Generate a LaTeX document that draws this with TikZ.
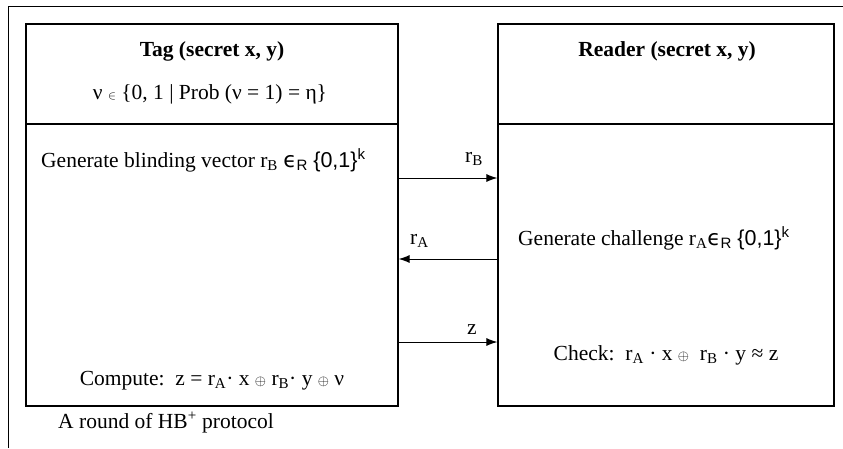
\documentclass[tikz,border=0pt]{standalone}
\usepackage{fontspec}
\setmainfont{Liberation Serif}
\newfontfamily\arialfont{Liberation Sans}
\newfontfamily\dejavu{DejaVu Sans}
\usetikzlibrary{positioning, arrows.meta}

\newcommand{\elt}{{\fontsize{13}{13}\selectfont$\in$}}
\newcommand{\xor}{{\fontsize{14}{14}\selectfont$\oplus$}}
\newcommand{\randin}{{\dejavu ϵ}\textsubscript{\arialfont R}}

\begin{document}
\begin{tikzpicture}[x=1pt, y=-1pt, >={Latex[length=11pt,width=8pt]},
    font=\fontsize{21.5}{25}\selectfont]
    \tikzset{block/.style = {draw, rectangle, line width=1.2pt, inner sep=0pt},
             txt/.style = {anchor=base west, inner sep=0pt},
             ctxt/.style = {anchor=base, inner sep=0pt},
             msg/.style = {draw, line width=1pt, ->}
            }
    \useasboundingbox (0,0) rectangle (843,448);
    \draw[line width=1pt] (8,448) -- (8,6) -- (843,6);

    \node (taghead) [block, minimum width=372pt, minimum height=100pt] at (212,74) {};
    \node (tagbody) [block, below=-1.2pt of taghead, minimum width=372pt, minimum height=282pt] {};
    \node (readhead) [block, minimum width=336pt, minimum height=100pt] at (666,74) {};
    \node (readbody) [block, below=-1.2pt of readhead, minimum width=336pt, minimum height=282pt] {};

    \node (tagtitle) [ctxt] at (212,56) {\textbf{Tag (secret x, y)}};
    \node (noise) [ctxt] at (210,99) {ν \elt\ \{0, 1 | Prob (ν = 1) = η\}};
    \node (readtitle) [ctxt] at (667,56) {\textbf{Reader (secret x, y)}};

    \node (blind) [txt] at (41,167) {Generate blinding vector r\textsubscript{B} \randin\ {\arialfont\{0,1\}\textsuperscript{k}}};
    \node (challenge) [txt] at (518,245) {Generate challenge r\textsubscript{A}\randin\ {\arialfont\{0,1\}\textsuperscript{k}}};
    \node (compute) [ctxt] at (212,385) {Compute:\ \ z = r\textsubscript{A}· x \xor\ r\textsubscript{B}· y \xor\ ν};
    \node (check) [ctxt] at (666,360) {Check:\ \ r\textsubscript{A} · x \xor\ \ r\textsubscript{B} · y ≈ z};
    \node (caption) [txt] at (58,428) {A round of HB\textsuperscript{+} protocol};

    \node (rblabel) [txt] at (465,162) {r\textsubscript{B}};
    \node (ralabel) [txt] at (410,244) {r\textsubscript{A}};
    \node (zlabel) [txt] at (467,334) {z};

    \path[msg] (tagbody.east |- 0,178) -- (readbody.west |- 0,178);
    \path[msg] (readbody.west |- 0,259) -- (tagbody.east |- 0,259);
    \path[msg] (tagbody.east |- 0,342) -- (readbody.west |- 0,342);
\end{tikzpicture}
\end{document}
